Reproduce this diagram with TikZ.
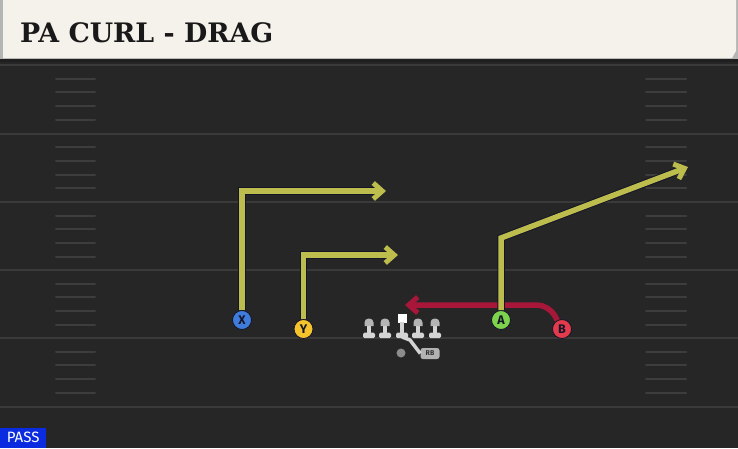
\documentclass[tikz,border=0pt]{standalone}
\usepackage{fontspec}
\usetikzlibrary{arrows.meta}
\newfontfamily\titlefont{DejaVu Serif}
\newfontfamily\tagfont{Fira Sans}
\definecolor{field}{HTML}{262626}
\definecolor{yardline}{HTML}{3A3A3A}
\definecolor{hashline}{HTML}{3D3D3D}
\definecolor{header}{HTML}{F5F2EB}
\definecolor{headeredge}{HTML}{B5B5B5}
\definecolor{routeyellow}{HTML}{BDBD4E}
\definecolor{routered}{HTML}{A8173A}
\definecolor{routeedge}{HTML}{15152A}
\definecolor{xblue}{HTML}{3E7BDB}
\definecolor{yyellow}{HTML}{F5C42C}
\definecolor{agreen}{HTML}{7DD34B}
\definecolor{bred}{HTML}{E33B4B}
\definecolor{olgrey}{HTML}{D4D4D4}
\definecolor{olhead}{HTML}{B4B4B4}
\definecolor{passblue}{HTML}{0A2BE0}

\begin{document}
\begin{tikzpicture}[x=1pt, y=-1pt,
    player/.style ={circle, draw=routeedge, thick, inner sep=0pt, minimum size=19pt,
                    font=\tagfont\bfseries\fontsize{12.5}{12.5}\selectfont, text=routeedge},
    route/.style ={draw=routeyellow, line width=5.5pt,
                   -{Straight Barb[length=9pt, width=16pt, line width=5pt]},
                   preaction={draw=routeedge, line width=7.5pt}},
    redroute/.style ={draw=routered, line width=5.5pt, rounded corners=12pt,
                   -{Straight Barb[length=9pt, width=16pt, line width=5pt]}},
    hash/.style ={hashline, line width=2pt, line cap=round}]
   \useasboundingbox (0,0) rectangle (738,448);
   \fill[field] (0,0) rectangle (738,448);

   % field markings
   \foreach \y in {65,133.5,202,270,338,407}
      \draw[yardline, line width=2pt] (0,\y) -- (738,\y);
   \foreach \y in {65,133.5,202,270,338}
      \foreach \k in {1,...,4} {
         \draw[hash] (56,\y+\k*13.7) -- (95,\y+\k*13.7);
         \draw[hash] (646,\y+\k*13.7) -- (686,\y+\k*13.7);
      }

   % header
   \fill[headeredge] (0,0) rectangle (738,59);
   \fill[header] (3,0) -- (736,0) -- (736,51) -- (732,58) -- (3,58) -- cycle;
   \fill[black!88] (0,59) rectangle (738,62);
   \node[anchor=base west, inner sep=0pt, font=\titlefont\bfseries\fontsize{26.8}{26.8}\selectfont,
         text=black!90] (title) at (20,42) {PA CURL - DRAG};

   % offensive line
   \foreach \x in {369,385,418,435} {
      \fill[olgrey] (\x-2,324) rectangle (\x+2,334);
      \fill[olhead] (\x-4.5,326) [rounded corners=4pt] -- (\x-4.5,318.5) -- (\x+4.5,318.5)
                     [sharp corners] -- (\x+4.5,326) -- cycle;
      \fill[olgrey, rounded corners=1.5pt] (\x-6,332.5) rectangle (\x+6,338);
   }
   \node[fill=white, inner sep=0pt, minimum size=9pt] (C) at (402,318) {};
   \fill[olgrey] (400,322) rectangle (404,334);
   \fill[olgrey, rounded corners=1.5pt] (396,332.5) rectangle (408,338);

   % running back
   \node[circle, fill=black!45, inner sep=0pt, minimum size=9pt] (back) at (401,353) {};
   \node[fill=black!30, rounded corners=2.5pt, inner sep=0pt, minimum width=19pt, minimum height=11pt,
         font=\tagfont\bfseries\fontsize{7}{7}\selectfont, text=black!80] (RB) at (430,353.5) {RB};
   \coordinate (heel) at (402,337);
   \coordinate (fake) at (410,340);
   \draw[olgrey, line width=3.5pt] (heel) -- (fake) -- (RB.west);

   % receivers
   \node[player, fill=xblue]   (X) at (242,320) {X};
   \node[player, fill=yyellow] (Y) at (303.5,329) {Y};
   \node[player, fill=agreen]  (A) at (501,320) {A};
   \node[player, fill=bred]    (B) at (562,329) {B};

   \coordinate (Xcorner) at (242,191);
   \coordinate (Xend)    at (386,191);
   \coordinate (Ycorner) at (303.5,255);
   \coordinate (Yend)    at (398,255);
   \coordinate (Acorner) at (501,238);
   \coordinate (Aend)    at (688,167);
   \coordinate (Bcorner) at (549,305);
   \coordinate (Bend)    at (405,305);

   \draw[redroute] (B) -- (Bcorner) -- (Bend);
   \draw[route] (X) -- (Xcorner) -- (Xend);
   \draw[route] (Y) -- (Ycorner) -- (Yend);
   \draw[route] (A) -- (Acorner) -- (Aend);

   % play type
   \node[fill=passblue, text=white, anchor=south west, inner sep=0pt, minimum width=46pt,
         minimum height=20pt, font=\tagfont\fontsize{15}{15}\selectfont] (mode) at (0,448) {PASS};
\end{tikzpicture}
\end{document}
